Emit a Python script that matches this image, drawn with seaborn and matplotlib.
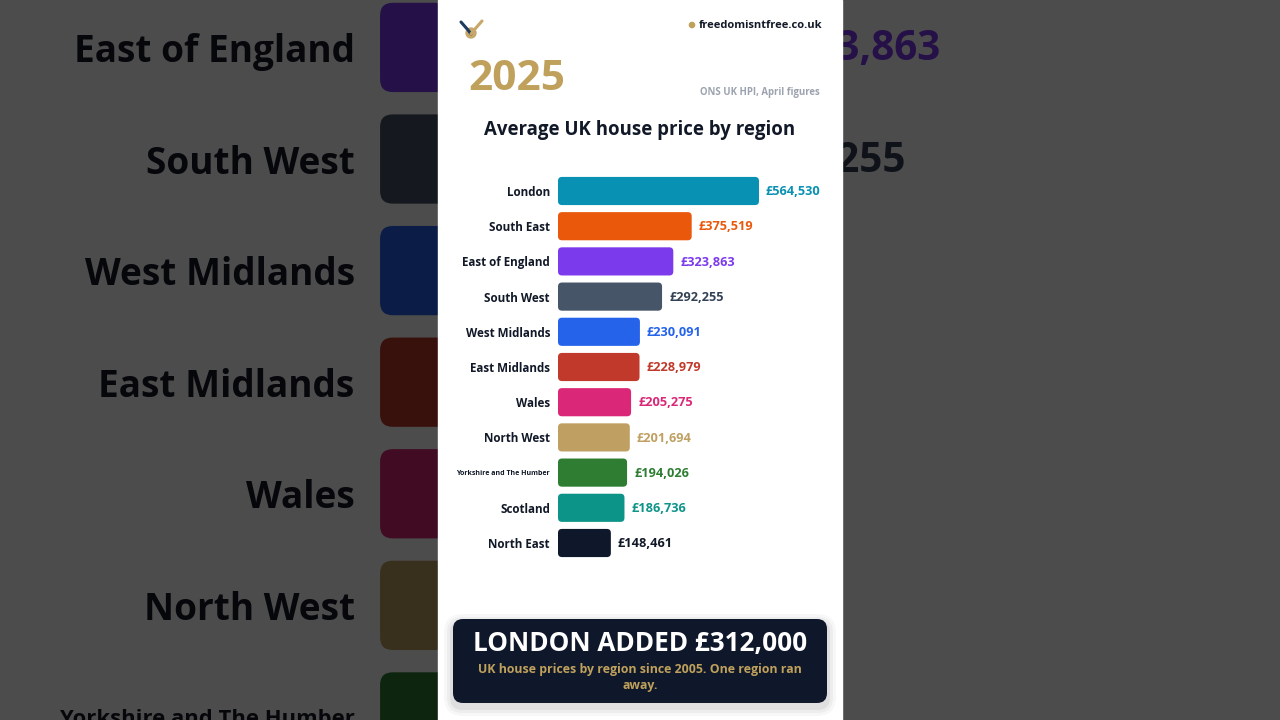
import matplotlib
matplotlib.use("Agg")
import matplotlib.pyplot as plt
import seaborn as sns
from matplotlib.patches import FancyBboxPatch, Rectangle, Circle

# ---------------- data ----------------
regions = ["London", "South East", "East of England", "South West", "West Midlands",
           "East Midlands", "Wales", "North West", "Yorkshire and The Humber",
           "Scotland", "North East"]
prices = [564530, 375519, 323863, 292255, 230091, 228979, 205275, 201694, 194026,
          186736, 148461]
bar_colors = ["#0891b2", "#ea580c", "#7c3aed", "#475569", "#2563eb", "#c0392b",
              "#db2777", "#c0a062", "#2e7d32", "#0d9488", "#0f172a"]
value_colors = ["#0891b2", "#ea580c", "#7c3aed", "#334155", "#2563eb", "#c0392b",
                "#db2777", "#c0a062", "#2e7d32", "#0d9488", "#111827"]
year = "2025"
title = "Average UK house price by region"
source = "ONS UK HPI, April figures"
site = "freedomisntfree.co.uk"
headline = "LONDON ADDED £312,000"
sub1 = "UK house prices by region since 2005. One region ran"
sub2 = "away."

sns.set_theme(style="white")
plt.rcParams["font.family"] = ["Open Sans", "DejaVu Sans"]

W, H = 1280, 720
fig = plt.figure(figsize=(12.8, 7.2), dpi=100, facecolor="#ffffff")

GOLD = "#bfa15c"
NAVY = "#0f172a"
XMAX = 764000
AX_L, AX_R, AX_T, AX_B = 558, 830, 173.4, 560.6


def fx(x, S):
    return (640 + (x - 640) * S) / W


def fy(y, S):
    return 1 - (360 + (y - 360) * S) / H


def draw_scene(S, z):
    cv = fig.add_axes([0, 0, 1, 1], zorder=z)
    cv.set_xlim(640 - 640 / S, 640 + 640 / S)
    cv.set_ylim(360 + 360 / S, 360 - 360 / S)
    cv.axis("off")
    cv.patch.set_alpha(0)

    # white panel
    cv.add_patch(Rectangle((438, 0), 404, 720, color="white", zorder=0))

    # site tag
    cv.add_patch(Circle((692, 25), 2.6, color=GOLD, zorder=2))
    cv.text(699, 25.5, site, ha="left", va="center", fontsize=8.05 * S,
            fontweight="bold", color="#111827")
    # small emblem
    cv.add_patch(Circle((471, 33), 5, color="#c8a86a", zorder=2))
    cv.plot([461, 468, 471], [22, 30, 34], color="#1e3a5f", lw=2.2 * S, solid_capstyle="round")
    cv.plot([482, 475, 471], [21, 29, 34], color="#c8a86a", lw=2.2 * S, solid_capstyle="round")

    cv.text(468, 80, year, ha="left", va="center", fontsize=30.5 * S,
            fontweight="bold", color=GOLD)
    cv.text(820, 92, source, ha="right", va="center", fontsize=6.9 * S,
            fontweight="bold", color="#9ca3af")
    cv.text(640, 129.5, title, ha="center", va="center", fontsize=13.4 * S,
            fontweight="bold", color="#111827")

    # bottom card with soft shadow
    for k, a in [(9, 0.03), (6, 0.04), (3, 0.06)]:
        cv.add_patch(FancyBboxPatch((453 - k, 619 - k + 4), 374 + 2 * k, 84 + 2 * k,
                                    boxstyle=f"round,pad=0,rounding_size={10 + k}",
                                    color="black", alpha=a, lw=0, zorder=1))
    cv.add_patch(FancyBboxPatch((453, 619), 374, 84,
                                boxstyle="round,pad=0,rounding_size=10",
                                color=NAVY, lw=0, zorder=2))
    cv.text(640, 644, headline, ha="center", va="center", fontsize=18.8 * S,
            fontweight="bold", color="white", zorder=3)
    cv.text(640, 670, sub1, ha="center", va="center", fontsize=8.9 * S,
            fontweight="bold", color=GOLD, zorder=3)
    cv.text(640, 685.5, sub2, ha="center", va="center", fontsize=8.9 * S,
            fontweight="bold", color=GOLD, zorder=3)

    # bar chart
    ax = fig.add_axes([fx(AX_L, S), fy(AX_B, S), (AX_R - AX_L) * S / W,
                       (AX_B - AX_T) * S / H], zorder=z + 0.5)
    sns.barplot(x=prices, y=regions, hue=regions, palette=bar_colors, legend=False,
                orient="h", width=0.8, saturation=1, ax=ax)
    ax.set_xlim(0, XMAX)
    ax.set_ylim(len(regions) - 0.5, -0.5)
    ax.patch.set_alpha(0)
    for sp in ax.spines.values():
        sp.set_visible(False)
    ax.set_xticks([])
    ax.set_xlabel("")
    ax.set_ylabel("")
    ax.tick_params(axis="y", length=0, pad=8 * 0.72 * S)
    for i, lab in enumerate(ax.get_yticklabels()):
        lab.set_fontweight("bold")
        lab.set_color("#111827")
        lab.set_fontsize((5.0 if len(regions[i]) > 20 else 8.4) * S)

    xpp = XMAX / (AX_R - AX_L)
    ypp = len(regions) / (AX_B - AX_T)
    asp = ypp / xpp
    for p in list(ax.patches):
        x0, y0, w, h = p.get_x(), p.get_y(), p.get_width(), p.get_height()
        c = p.get_facecolor()
        p.remove()
        ax.add_patch(FancyBboxPatch((x0, y0), w, h,
                                    boxstyle=f"round,pad=0,rounding_size={4 * xpp}",
                                    mutation_aspect=asp, facecolor=c, lw=0))
    for i, v in enumerate(prices):
        ax.text(v + 7 * xpp, i + 0.02, f"£{v:,}", ha="left", va="center",
                fontsize=9.2 * S, fontweight="bold", color=value_colors[i])
    return list(cv.texts) + list(ax.texts) + list(ax.get_yticklabels())


# zoomed, darkened background copy
bg_texts = draw_scene(3.17, 0)
ov = fig.add_axes([0, 0, 1, 1], zorder=2)
ov.axis("off")
ov.add_patch(Rectangle((0, 0), 1, 1, transform=ov.transAxes, color="black",
                       alpha=0.70, lw=0))
# foreground panel
draw_scene(1.0, 3)

# hide background texts that are fully covered by the panel or fully off-frame
fig.canvas.draw()
rend = fig.canvas.get_renderer()
for t in bg_texts:
    bb = t.get_window_extent(rend)
    covered = bb.x0 >= 438 and bb.x1 <= 842
    off = bb.x1 <= 0 or bb.x0 >= W or bb.y1 <= 0 or bb.y0 >= H
    if covered or off:
        t.set_visible(False)

fig.savefig("out.png", dpi=100, facecolor=fig.get_facecolor())
